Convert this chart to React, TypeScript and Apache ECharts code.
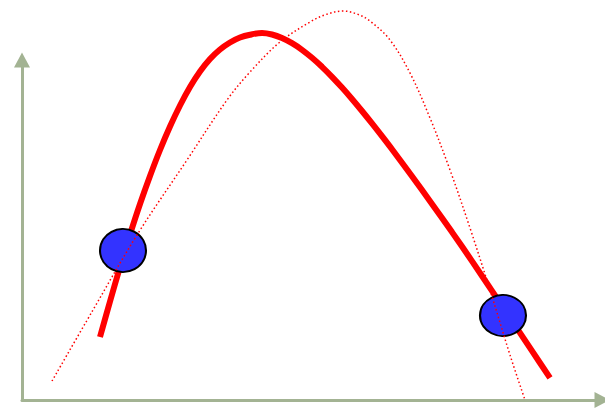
import React, { useEffect, useRef } from "react";
import * as echarts from "echarts";

// Values on the chart's own axes (x to the right of the origin, y up from the origin)
const thickCurve: [number, number][] = [
  [78, 63], [88, 98.5], [98, 133], [108, 165.5], [118, 196], [128, 224],
  [138, 250], [148, 273.5], [158, 294.5], [168, 313], [178, 328.5], [188, 341],
  [198, 350.5], [208, 357.5], [218, 362.5], [228, 365.3], [240, 367],
  [250, 365.5], [260, 362], [270, 356.8], [280, 350.2], [290, 342.2],
  [300, 333.2], [310, 323.2], [320, 312.4], [330, 301], [340, 289],
  [350, 276.6], [360, 263.8], [370, 250.7], [390, 223.7], [410, 196.1],
  [430, 167.9], [450, 138.9], [470, 109.1], [490, 79.1], [510, 49.1], [528, 22.1],
];

const dottedCurve: [number, number][] = [
  [30, 19], [71, 90], [115, 165], [165, 240], [205, 300], [228, 328],
  [258, 358], [288, 378], [304, 385.5], [321, 389], [336, 385.6], [348, 379],
  [368, 360], [388, 327], [408, 282], [428, 230], [448, 172], [468, 110],
  [488, 45], [503, 0],
];

const markers: [number, number][] = [
  [101, 149.5],
  [481, 84.5],
];
const markerSizes: [number, number][] = [
  [46, 43],
  [46, 41],
];

const axisMaxX = 580;
const axisMaxY = 340;

export default function App() {
  const ref = useRef<HTMLDivElement>(null);
  useEffect(() => {
    if (!ref.current) return;
    const chart = echarts.init(ref.current, undefined, { renderer: "svg" });
    const axisColor = "#a3b393";
    const axisCommon = {
      type: "value" as const,
      min: 0,
      splitLine: { show: false },
      axisTick: { show: false },
      axisLabel: { show: false },
      axisLine: {
        show: true,
        symbol: ["none", "triangle"],
        symbolSize: [16, 15],
        lineStyle: { color: axisColor, width: 3 },
      },
    };
    chart.setOption({
      animation: false,
      backgroundColor: "#ffffff",
      grid: { left: 22, right: 3, top: 60, bottom: 8 },
      xAxis: { ...axisCommon, max: axisMaxX },
      yAxis: { ...axisCommon, max: axisMaxY },
      series: [
        {
          type: "line",
          data: thickCurve,
          smooth: 0.35,
          showSymbol: false,
          clip: false,
          z: 1,
          lineStyle: { color: "#ff0000", width: 6, cap: "butt" },
        },
        {
          type: "scatter",
          data: markers.map((m, i) => ({ value: m, symbolSize: markerSizes[i] })),
          symbol: "circle",
          clip: false,
          z: 2,
          itemStyle: { color: "#3333ff", borderColor: "#000000", borderWidth: 2, opacity: 1 },
        },
        {
          type: "line",
          data: dottedCurve,
          smooth: 0.35,
          showSymbol: false,
          clip: false,
          z: 3,
          lineStyle: { color: "#ff0000", width: 1.5, type: [1.5, 2.5] },
        },
      ],
    });
    return () => chart.dispose();
  }, []);
  return (
    <div
      ref={ref}
      style={{ position: "fixed", left: 0, top: 0, width: 605, height: 408 }}
    />
  );
}
